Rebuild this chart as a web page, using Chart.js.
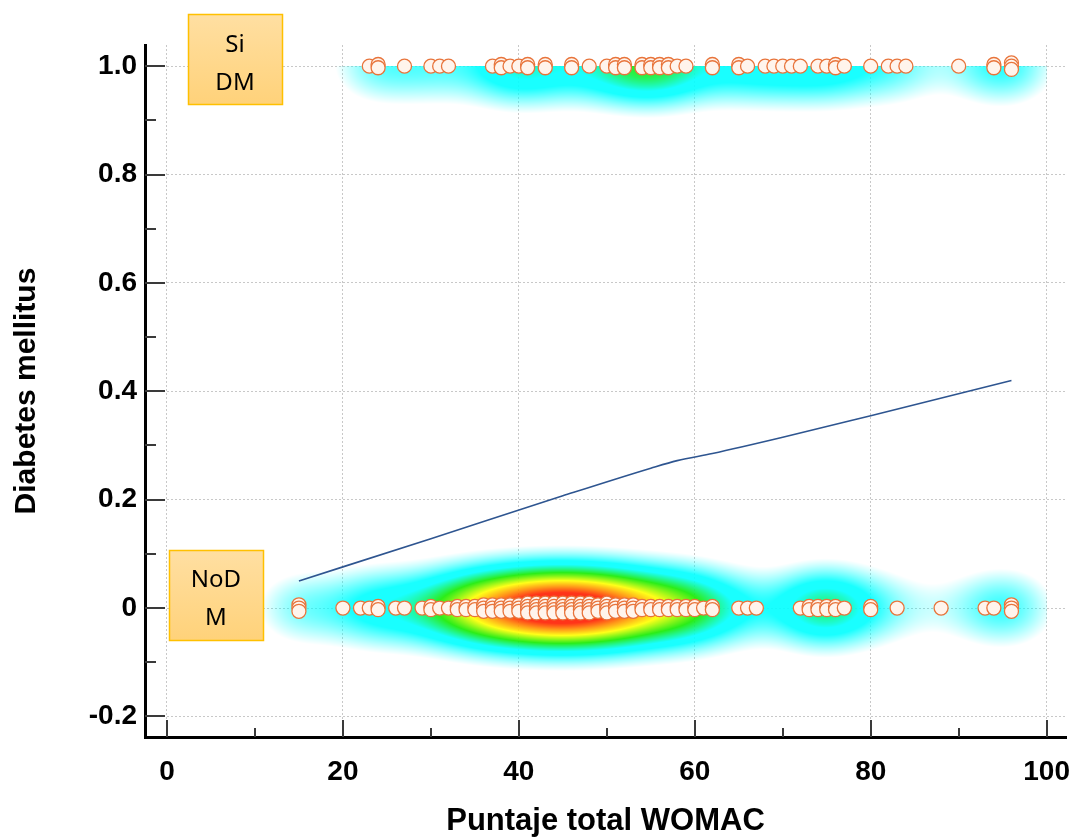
<!DOCTYPE html>
<html lang="es">
<head>
<meta charset="utf-8">
<title>Diabetes mellitus y puntaje WOMAC</title>
<script src="https://cdn.jsdelivr.net/npm/chart.js@4.4.1/dist/chart.umd.min.js"></script>
<style>
  html, body { margin: 0; padding: 0; background: #fff; }
  #wrap { width: 1075px; height: 837px; }
</style>
</head>
<body>
<div id="wrap"><canvas id="grafico" width="1075" height="837"></canvas></div>
<script>
// Puntaje total WOMAC por paciente, según grupo
var womacNoDM = [15, 15, 15, 20, 22, 23, 24, 24, 26, 27, 29, 30, 30, 31, 32, 33, 33, 34, 34, 35, 35,
    36, 36, 36, 37, 37, 37, 38, 38, 38, 39, 39, 39, 40, 40, 40, 41, 41, 41, 41, 42, 42, 42, 42,
    43, 43, 43, 43, 44, 44, 44, 44, 45, 45, 45, 45, 46, 46, 46, 46, 47, 47, 47, 47, 48, 48, 48, 48,
    49, 49, 49, 50, 50, 50, 50, 51, 51, 51, 52, 52, 52, 53, 53, 53, 54, 54, 55, 55, 56, 56, 57, 57,
    58, 58, 59, 59, 60, 60, 61, 62, 62, 65, 66, 67, 72, 73, 73, 74, 74, 75, 75, 76, 76, 77, 80, 80,
    83, 88, 93, 94, 96, 96, 96];
var womacSiDM = [23, 24, 24, 27, 30, 31, 32, 37, 38, 38, 39, 40, 41, 41, 43, 43, 46, 46, 48, 50, 51,
    51, 52, 52, 54, 54, 55, 55, 56, 56, 57, 57, 58, 59, 62, 62, 65, 65, 66, 68, 69, 70, 71, 72, 74,
    75, 76, 76, 77, 80, 82, 83, 84, 90, 94, 94, 96, 96, 96];

// Curva ajustada de probabilidad
var curvaX = [15, 30, 45, 55, 58, 62, 70, 80, 96];
var curvaY = [0.050, 0.128, 0.207, 0.258, 0.272, 0.285, 0.315, 0.355, 0.420];

var ticksX = [0, 20, 40, 60, 80, 100];
var ticksY = [-0.2, 0, 0.2, 0.4, 0.6, 0.8, 1.0];

var fuente = "'Liberation Sans', Arial, sans-serif";

// los valores repetidos se separan un poco en vertical para que se vean
function puntosGrupo(valores, nivel) {
    var total = {}, visto = {};
    valores.forEach(function (v) { total[v] = (total[v] || 0) + 1; });
    return valores.map(function (v) {
        visto[v] = (visto[v] || 0) + 1;
        var desfase = (visto[v] - 1 - (total[v] - 1) / 2) * 0.006;
        return { x: v, y: nivel - desfase };
    });
}

function densidad(valores, xv, h) {
    var s = 0;
    for (var i = 0; i < valores.length; i++) {
        var d = (xv - valores[i]) / h;
        s += Math.exp(-0.5 * d * d);
    }
    return s;
}

// escala de color tipo "jet"
var umbral = 0.08;
var paradas = [
    [0.08, [0, 255, 255]],
    [0.30, [0, 255, 255]],
    [0.45, [20, 235, 0]],
    [0.62, [255, 255, 0]],
    [0.75, [255, 140, 0]],
    [0.86, [255, 30, 0]]
];
function colorJet(t) {
    if (t <= paradas[0][0]) return paradas[0][1];
    for (var i = 1; i < paradas.length; i++) {
        if (t <= paradas[i][0]) {
            var a = paradas[i - 1], b = paradas[i];
            var f = (t - a[0]) / (b[0] - a[0]);
            return [a[1][0] + (b[1][0] - a[1][0]) * f, a[1][1] + (b[1][1] - a[1][1]) * f, a[1][2] + (b[1][2] - a[1][2]) * f];
        }
    }
    return paradas[paradas.length - 1][1];
}

// mapa de densidad detrás de los puntos
var mapaDensidad = {
    id: 'mapaDensidad',
    beforeDatasetsDraw: function (chart) {
        var a = chart.chartArea, sx = chart.scales.x, sy = chart.scales.y;
        var w = Math.round(a.right - a.left), h = Math.round(a.bottom - a.top);
        var lienzo = document.createElement('canvas');
        lienzo.width = w; lienzo.height = h;
        var c2 = lienzo.getContext('2d');
        var img = c2.createImageData(w, h);
        var bw = 3.5, sigY = 0.0517, gamma = 0.8;
        var d0 = [], d1 = [], xs = [], pico = 0;
        for (var i = 0; i < w; i++) {
            xs[i] = sx.getValueForPixel(a.left + i + 0.5);
            d0[i] = densidad(womacNoDM, xs[i], bw);
            d1[i] = densidad(womacSiDM, xs[i], bw);
            pico = Math.max(pico, d0[i], d1[i]);
        }
        for (i = 0; i < w; i++) {
            d0[i] = Math.pow(d0[i] / pico, gamma);
            d1[i] = Math.pow(d1[i] / pico, gamma);
        }
        for (var j = 0; j < h; j++) {
            var yv = sy.getValueForPixel(a.top + j + 0.5);
            var g0 = Math.exp(-0.5 * Math.pow(yv / sigY, 2));
            var g1 = yv <= 1 ? Math.exp(-0.5 * Math.pow((yv - 1) / sigY, 2)) : 0;
            for (var i2 = 0; i2 < w; i2++) {
                if (xs[i2] > 100) continue;
                var t = d0[i2] * g0 + d1[i2] * g1;
                if (t < umbral) continue;
                var col = colorJet(t);
                var alfa = Math.min(1, (t - umbral) / 0.16) * 0.9;
                var k = (j * w + i2) * 4;
                img.data[k] = col[0]; img.data[k + 1] = col[1]; img.data[k + 2] = col[2];
                img.data[k + 3] = Math.round(alfa * 255);
            }
        }
        c2.putImageData(img, 0, 0);
        chart.ctx.drawImage(lienzo, a.left, a.top);
    }
};

// marcas de los ejes hacia adentro, mayores y menores
var marcasEjes = {
    id: 'marcasEjes',
    afterDraw: function (chart) {
        var ctx = chart.ctx, a = chart.chartArea, sx = chart.scales.x, sy = chart.scales.y;
        ctx.save();
        ctx.strokeStyle = '#3a3a3a';
        ctx.lineWidth = 2;
        ctx.beginPath();
        ticksX.forEach(function (v, i) {
            var px = Math.round(sx.getPixelForValue(v));
            ctx.moveTo(px, a.bottom); ctx.lineTo(px, a.bottom - 17);
            if (i < ticksX.length - 1) {
                var pm = Math.round(sx.getPixelForValue((v + ticksX[i + 1]) / 2));
                ctx.moveTo(pm, a.bottom); ctx.lineTo(pm, a.bottom - 9);
            }
        });
        ticksY.forEach(function (v, i) {
            var py = Math.round(sy.getPixelForValue(v));
            ctx.moveTo(a.left, py); ctx.lineTo(a.left + 20, py);
            if (i < ticksY.length - 1) {
                var pm = Math.round(sy.getPixelForValue((v + ticksY[i + 1]) / 2));
                ctx.moveTo(a.left, pm); ctx.lineTo(a.left + 11, pm);
            }
        });
        ctx.stroke();
        ctx.restore();
    }
};

// recuadros con el nombre de cada grupo
var etiquetasGrupo = {
    id: 'etiquetasGrupo',
    afterDraw: function (chart) {
        var ctx = chart.ctx;
        var cajas = [
            { x: 188, y: 14, w: 94, h: 90, lineas: ['Si', 'DM'], cy: [45, 83] },
            { x: 169, y: 550, w: 94, h: 90, lineas: ['NoD', 'M'], cy: [580, 618] }
        ];
        ctx.save();
        cajas.forEach(function (c) {
            var g = ctx.createLinearGradient(0, c.y, 0, c.y + c.h);
            g.addColorStop(0, '#ffdfa2');
            g.addColorStop(1, '#ffd27a');
            ctx.fillStyle = g;
            ctx.fillRect(c.x, c.y, c.w, c.h);
            ctx.strokeStyle = '#ffc000';
            ctx.lineWidth = 1.5;
            ctx.strokeRect(c.x + 0.5, c.y + 0.5, c.w, c.h);
            ctx.fillStyle = '#000';
            ctx.font = "24px 'Noto Sans', 'Open Sans', sans-serif";
            ctx.textAlign = 'center';
            ctx.textBaseline = 'middle';
            c.lineas.forEach(function (t, i) {
                ctx.fillText(t, c.x + c.w / 2, c.cy[i]);
            });
        });
        ctx.restore();
    }
};

var ctx = document.getElementById('grafico').getContext('2d');
var grafico = new Chart(ctx, {
    type: 'scatter',
    data: {
        datasets: [{
            label: 'Curva',
            type: 'line',
            data: curvaX.map(function (v, i) { return { x: v, y: curvaY[i] }; }),
            borderColor: '#2e5590',
            borderWidth: 1.6,
            pointRadius: 0,
            fill: false,
            cubicInterpolationMode: 'monotone'
        }, {
            label: 'No DM',
            data: puntosGrupo(womacNoDM, 0),
            pointRadius: 7,
            borderWidth: 1.3,
            borderColor: '#e8743b',
            backgroundColor: '#fff4ec'
        }, {
            label: 'Si DM',
            data: puntosGrupo(womacSiDM, 1),
            pointRadius: 7,
            borderWidth: 1.3,
            borderColor: '#e8743b',
            backgroundColor: '#fff4ec'
        }]
    },
    options: {
        responsive: false,
        animation: false,
        devicePixelRatio: 1,
        layout: { padding: { top: 45, right: 9, left: 0, bottom: 0 } },
        plugins: { legend: { display: false }, tooltip: { enabled: false } },
        scales: {
            x: {
                type: 'linear',
                min: -2.5,
                max: 102.2,
                afterFit: function (s) { s.height = 100; s.paddingLeft = 0; s.paddingRight = 0; },
                afterBuildTicks: function (s) { s.ticks = ticksX.map(function (v) { return { value: v }; }); },
                grid: { color: '#c8c8c8', lineWidth: 1, drawTicks: false },
                border: { color: '#000', width: 3, dash: [2, 2] },
                ticks: {
                    color: '#000',
                    padding: 18,
                    font: { family: fuente, size: 28, weight: 'bold' },
                    callback: function (v) { return String(v); }
                },
                title: {
                    display: true,
                    text: 'Puntaje total WOMAC',
                    color: '#000',
                    padding: { top: 0, bottom: 0 },
                    font: { family: fuente, size: 31, weight: 'bold', lineHeight: 1 }
                }
            },
            y: {
                type: 'linear',
                min: -0.238,
                max: 1.039,
                afterFit: function (s) { s.width = 145; },
                afterBuildTicks: function (s) { s.ticks = ticksY.map(function (v) { return { value: v }; }); },
                grid: { color: '#c8c8c8', lineWidth: 1, drawTicks: false },
                border: { color: '#000', width: 3, dash: [2, 2] },
                ticks: {
                    color: '#000',
                    padding: 8,
                    font: { family: fuente, size: 28, weight: 'bold' },
                    callback: function (v) { return v === 0 ? '0' : v.toFixed(1); }
                },
                title: {
                    display: true,
                    text: 'Diabetes mellitus',
                    color: '#000',
                    padding: { top: 12, bottom: 0 },
                    font: { family: fuente, size: 30, weight: 'bold', lineHeight: 1 }
                }
            }
        }
    },
    plugins: [mapaDensidad, marcasEjes, etiquetasGrupo]
});
</script>
</body>
</html>
